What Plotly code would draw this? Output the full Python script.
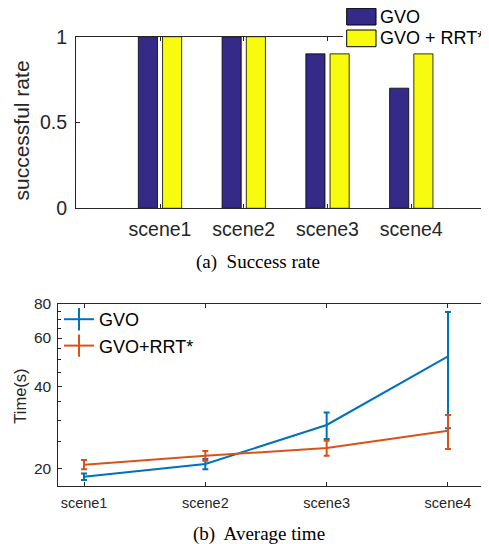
import plotly.graph_objects as go

# ---- data ----
scenes = ["scene1", "scene2", "scene3", "scene4"]
success_gvo = [1.0, 1.0, 0.9, 0.7]
success_rrt = [1.0, 1.0, 0.9, 0.9]

time_gvo = [18.6, 20.7, 28.8, 51.4]
time_gvo_err = [0.5, 0.9, 3.2, 23.4]
time_rrt = [20.6, 22.2, 23.7, 27.4]
time_rrt_err = [0.8, 0.9, 1.5, 3.9]

legend_a = ["GVO", "GVO + RRT*"]
legend_b = ["GVO", "GVO+RRT*"]
bar_colors = ["#352a87", "#f9fb0e"]
line_colors = ["#0072bd", "#d95319"]

# the page body has an 8px margin, so the figure is drawn 8px in from the window corner
OFF = 8
W, H = 489 - OFF, 544 - OFF
AX = "#262626"
SANS = "Liberation Sans, Arial, sans-serif"
SERIF = "Liberation Serif, Times New Roman, serif"

def px(x):
    return (x - OFF) / W

def py(y):
    return 1 - (y - OFF) / H

fig = go.Figure()

for vals, name, col in zip([success_gvo, success_rrt], legend_a, bar_colors):
    fig.add_trace(go.Bar(x=scenes, y=vals, name=name, showlegend=False,
                         marker=dict(color=col, line=dict(color="black", width=0.8)),
                         xaxis="x", yaxis="y"))

for vals, errs, name, col in zip([time_gvo, time_rrt], [time_gvo_err, time_rrt_err],
                                 legend_b, line_colors):
    fig.add_trace(go.Scatter(x=scenes, y=vals, name=name, mode="lines", showlegend=False,
                             line=dict(color=col, width=2),
                             error_y=dict(type="data", array=errs, color=col,
                                          thickness=2, width=3),
                             xaxis="x2", yaxis="y2"))
    # legend-only entry (line crossed by a vertical error-bar glyph)
    fig.add_trace(go.Scatter(x=[None], y=[None], name=name, mode="lines+markers",
                             line=dict(color=col, width=2),
                             marker=dict(symbol="line-ns", size=18,
                                         line=dict(color=col, width=2)),
                             xaxis="x2", yaxis="y2", legend="legend2"))

axcommon = dict(showline=True, linecolor=AX, linewidth=1, mirror="ticks",
                ticks="inside", tickcolor=AX, showgrid=False, zeroline=False,
                automargin=False)

# manual legend for the bar chart (patch + label)
shapes = [dict(type="rect", xref="paper", yref="paper",
               x0=px(343), x1=1.02, y0=py(50), y1=1.02,
               fillcolor="white", line=dict(width=0), layer="above")]
annotations = []
rows_y = [(8.3, 25.0), (30.0, 46.7)]
for (y0, y1), name, col in zip(rows_y, legend_a, bar_colors):
    shapes.append(dict(type="rect", xref="paper", yref="paper",
                       x0=px(346.7), x1=px(376), y0=py(y1), y1=py(y0),
                       fillcolor=col, line=dict(color="black", width=1), layer="above"))
    annotations.append(dict(text=name, x=px(378), y=py((y0 + y1) / 2), xref="paper",
                            yref="paper", showarrow=False, xanchor="left", yanchor="middle",
                            font=dict(family=SANS, size=18, color="black")))

annotations += [
    dict(text="successful rate", x=px(21.7), y=py(130.8), xref="paper", yref="paper",
         textangle=-90, showarrow=False, font=dict(family=SANS, size=21, color=AX),
         xanchor="center", yanchor="middle"),
    dict(text="Time(s)", x=px(20), y=py(396.7), xref="paper", yref="paper",
         textangle=-90, showarrow=False, font=dict(family=SANS, size=16.5, color=AX),
         xanchor="center", yanchor="middle"),
    dict(text="(a)  Success rate", x=px(258), y=py(261.7), xref="paper", yref="paper",
         showarrow=False, font=dict(family=SERIF, size=19, color="black"),
         xanchor="center", yanchor="middle"),
    dict(text="(b)  Average time", x=px(259), y=py(534), xref="paper", yref="paper",
         showarrow=False, font=dict(family=SERIF, size=19, color="black"),
         xanchor="center", yanchor="middle"),
]

fig.update_layout(
    template="none",
    width=W, height=H, margin=dict(l=0, r=0, t=0, b=0, autoexpand=False),
    paper_bgcolor="white", plot_bgcolor="white",
    barmode="group", bargap=0.422, bargroupgap=0.21,
    xaxis=dict(domain=[px(76), 1], range=[-1.003, 3.928], type="category",
               ticklen=4, tickfont=dict(family=SANS, size=19.5, color=AX),
               ticklabelstandoff=3, anchor="y", **axcommon),
    yaxis=dict(domain=[py(208.3), py(36.7)], range=[0, 1],
               tickvals=[0, 0.5, 1], ticktext=["0", "0.5", "1"], ticklen=4,
               tickfont=dict(family=SANS, size=19.5, color=AX),
               ticklabelstandoff=4, anchor="x", **axcommon),
    xaxis2=dict(domain=[px(58.3), 1], range=[-0.212, 3.338], type="category",
                ticklen=4, tickfont=dict(family=SANS, size=14.5, color=AX),
                ticklabelstandoff=4, anchor="y2", **axcommon),
    yaxis2=dict(domain=[py(486), py(304)], type="log",
                range=[1.2355, 1.90309],
                tickvals=[20, 40, 60, 80], ticktext=["20", "40", "60", "80"], ticklen=4,
                tickfont=dict(family=SANS, size=15.5, color=AX),
                minor=dict(tickvals=[25, 30, 35, 45, 50, 55, 65, 70, 75],
                           ticks="inside", ticklen=3, tickcolor=AX),
                ticklabelstandoff=3, anchor="x2", **axcommon),
    legend2=dict(x=px(59), y=py(301), xanchor="left", yanchor="top",
                 bgcolor="rgba(255,255,255,0)", borderwidth=0,
                 font=dict(family=SANS, size=18, color="black"),
                 tracegroupgap=0, itemwidth=30),
    shapes=shapes,
    annotations=annotations,
)

fig.write_html("out.html")
